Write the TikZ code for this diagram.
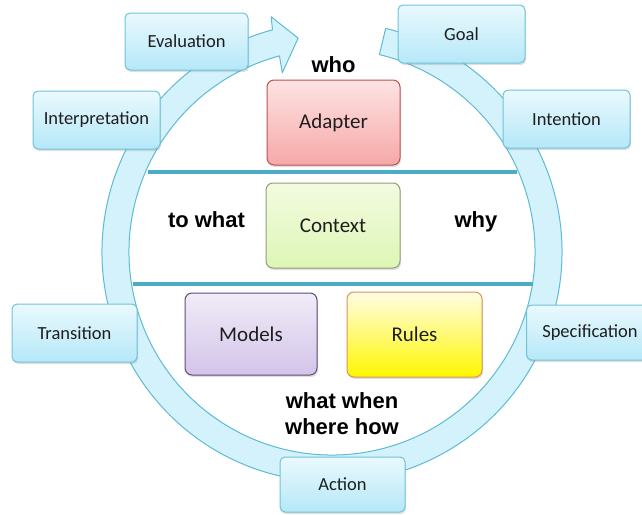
\documentclass[tikz,border=0pt]{standalone}
\usepackage{fontspec}
\setmainfont{Carlito}
\newfontfamily\lblfont{Liberation Sans}
\usetikzlibrary{shadows}
\definecolor{ringfill}{HTML}{D3F2FB}
\definecolor{ringdraw}{HTML}{5DBBD3}
\definecolor{boxtop}{HTML}{EAF9FE}
\definecolor{boxbot}{HTML}{B5E8F8}
\definecolor{boxdraw}{HTML}{6FC3D9}
\definecolor{txtgray}{HTML}{1E1E1E}
\definecolor{sepline}{HTML}{4BACC6}
\definecolor{redtop}{HTML}{FDE3E3}
\definecolor{redbot}{HTML}{F7A8A8}
\definecolor{reddraw}{HTML}{B85450}
\definecolor{grntop}{HTML}{F3FBE0}
\definecolor{grnbot}{HTML}{DDF6B5}
\definecolor{grndraw}{HTML}{8FA07A}
\definecolor{purtop}{HTML}{F1ECF7}
\definecolor{purbot}{HTML}{D3C4E9}
\definecolor{purdraw}{HTML}{5E4C78}
\definecolor{yeltop}{HTML}{FFFDE6}
\definecolor{yelbot}{HTML}{FFF700}
\definecolor{yeldraw}{HTML}{D9964E}
\tikzset{
  ringstyle/.style={fill=ringfill, draw=ringdraw, line width=1pt, line join=round},
  cbox/.style={draw=boxdraw, line width=1pt, rounded corners=5pt,
    top color=boxtop, bottom color=boxbot, text=txtgray,
    font=\fontsize{18.5}{20}\selectfont,
    drop shadow={opacity=0.25, shadow xshift=1pt, shadow yshift=-2pt}},
  ibox/.style={line width=1pt, rounded corners=7pt, text=txtgray,
    font=\fontsize{21}{24}\selectfont,
    drop shadow={opacity=0.25, shadow xshift=1pt, shadow yshift=-2pt}},
  qlabel/.style={font=\lblfont\bfseries\fontsize{22}{26}\selectfont, text=black, inner sep=0pt},
  sepstyle/.style={draw=sepline, line width=3.5pt}
}
\begin{document}
\begin{tikzpicture}[x=1pt,y=1pt]
\useasboundingbox (0,0) rectangle (642,-514);
\clip (0,0) rectangle (642,-514);
\coordinate (C) at (332,-252);
% cycle ring with arrow head
\path[ringstyle]
  ([shift={(76.5:230)}]C) arc[start angle=76.5, end angle=-255, radius=230pt]
  -- ([shift={(104.5:243)}]C) -- ([shift={(99:216.5)}]C)
  -- ([shift={(105.5:186)}]C) -- ([shift={(105:203)}]C)
  arc[start angle=105, end angle=436.5, radius=203pt] -- cycle;
% separator lines
\coordinate (s1a) at (148,-172);
\coordinate (s1b) at (517,-172);
\coordinate (s2a) at (133,-284);
\coordinate (s2b) at (533,-284);
\draw[sepstyle] (s1a) -- (s1b);
\draw[sepstyle] (s2a) -- (s2b);
% outer boxes
\node[cbox, minimum width=123pt, minimum height=57pt] (eval) at (186.5,-41.5) {Evaluation};
\node[cbox, minimum width=127pt, minimum height=58pt] (goal) at (461.5,-34) {Goal};
\node[cbox, minimum width=127pt, minimum height=58pt] (intent) at (566.5,-119) {Intention};
\node[cbox, minimum width=127pt, minimum height=58pt] (interp) at (96.5,-120) {Interpretation};
\node[cbox, minimum width=125pt, minimum height=58pt] (trans) at (74.5,-333) {Transition};
\node[cbox, minimum width=127pt, minimum height=55pt] (spec) at (590,-332.5) {Specification};
\node[cbox, minimum width=125pt, minimum height=55pt] (action) at (342.5,-484.5) {Action};
% inner boxes
\node[ibox, draw=reddraw, top color=redtop, bottom color=redbot, minimum width=133pt, minimum height=85pt] (adapter) at (333.5,-122.5) {Adapter};
\node[ibox, draw=grndraw, top color=grntop, bottom color=grnbot, minimum width=134pt, minimum height=85pt] (context) at (333,-225.5) {Context};
\node[ibox, draw=purdraw, top color=purtop, bottom color=purbot, minimum width=132pt, minimum height=82pt] (models) at (251,-334) {Models};
\node[ibox, draw=yeldraw, top color=yeltop, bottom color=yelbot, minimum width=135pt, minimum height=85pt] (rules) at (414.5,-334.5) {Rules};
% question labels
\node[qlabel, anchor=base] (who) at (333.5,-72) {who};
\node[qlabel, anchor=base] (towhat) at (206.5,-227) {to what};
\node[qlabel, anchor=base] (why) at (476,-227) {why};
\node[qlabel, anchor=base] (what) at (342,-408) {what when};
\node[qlabel, anchor=base] (where) at (342,-434) {where how};
\end{tikzpicture}
\end{document}
